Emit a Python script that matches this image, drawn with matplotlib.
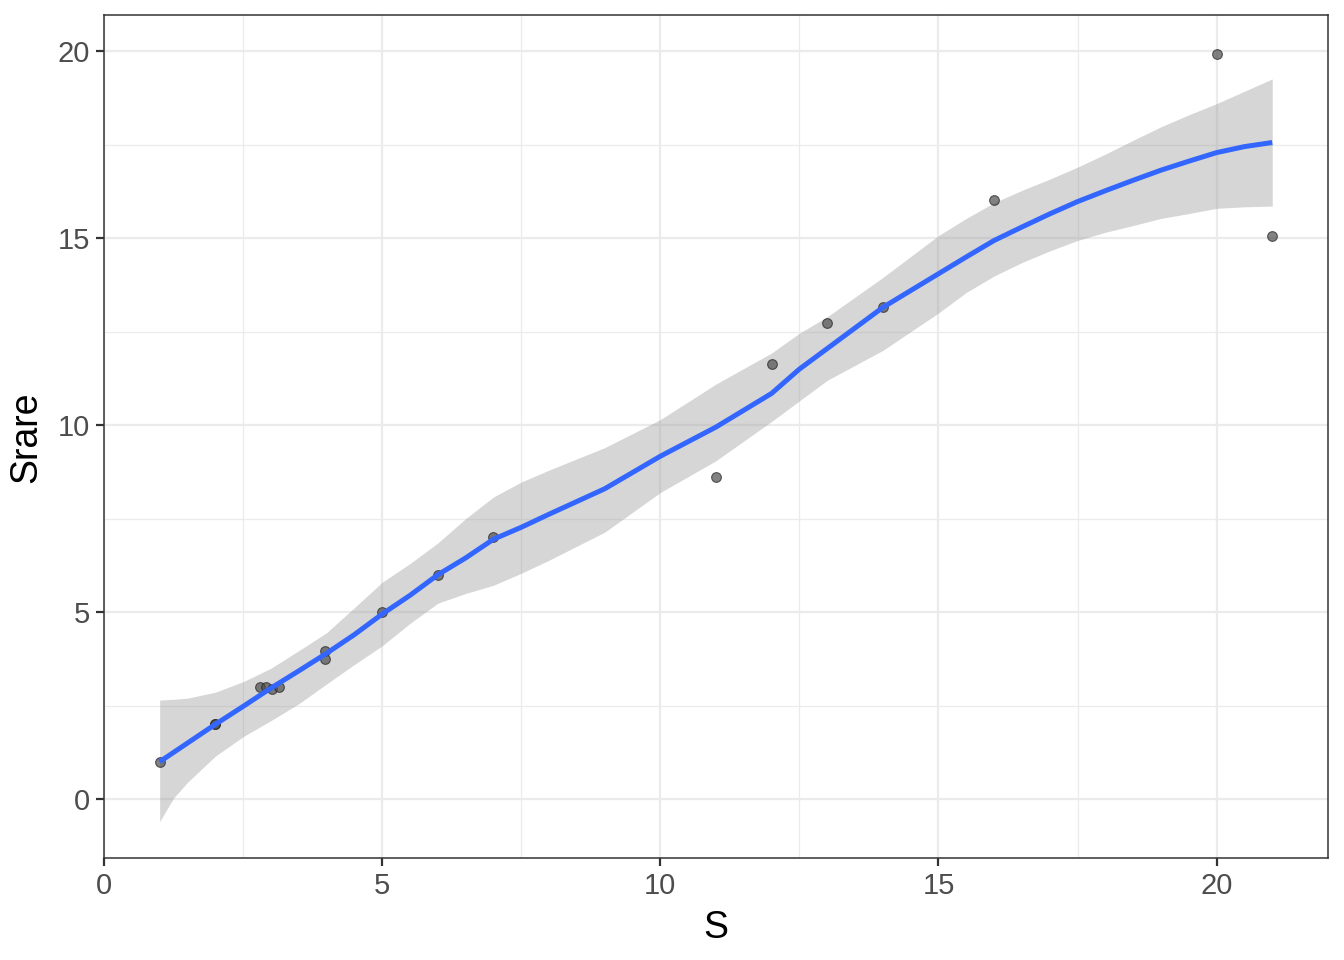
import matplotlib
matplotlib.use("Agg")
from matplotlib import pyplot as plt
from matplotlib.ticker import MultipleLocator
import numpy as np

plt.rcParams["font.family"] = ["Liberation Sans", "DejaVu Sans"]

# observed points
S = [1, 2, 2, 2.8, 2.92, 3.02, 3.15, 3.98, 3.98, 5, 6, 7, 11, 12, 13, 14, 16, 20, 21]
Srare = [1.0, 2.0, 2.02, 3.0, 3.0, 2.95, 3.0, 3.95, 3.75, 5.0, 6.0, 7.0,
         8.62, 11.65, 12.72, 13.17, 16.02, 19.93, 15.07]

# loess fit with confidence band
fit_x = [1, 1.25, 1.5, 2, 2.5, 3, 3.5, 4, 4.5, 5, 5.5, 6, 6.5, 7, 7.5, 8, 9, 10, 11,
         12, 12.5, 13, 14, 15, 15.5, 16, 16.5, 17, 17.5, 18, 18.5, 19, 19.5,
         20, 20.5, 21]
fit_y = [1.0, 1.25, 1.5, 2.0, 2.48, 2.97, 3.43, 3.9, 4.4, 4.95, 5.45, 6.0, 6.45, 6.95,
         7.27, 7.62, 8.3, 9.17, 9.95, 10.85, 11.5, 12.05, 13.15, 14.05, 14.5,
         14.94, 15.3, 15.65, 15.98, 16.27, 16.55, 16.82, 17.06, 17.29, 17.45, 17.56]
fit_hi = [2.65, 2.67, 2.7, 2.86, 3.14, 3.5, 3.97, 4.45, 5.12, 5.8, 6.3, 6.85, 7.5, 8.08,
          8.48, 8.8, 9.4, 10.15, 11.1, 11.93, 12.46, 12.9, 13.95, 15.07, 15.53,
          15.95, 16.28, 16.58, 16.9, 17.25, 17.62, 17.98, 18.3, 18.6, 18.93, 19.26]
fit_lo = [-0.6, 0.03, 0.45, 1.15, 1.67, 2.1, 2.55, 3.08, 3.6, 4.1, 4.7, 5.24, 5.5, 5.72,
          6.04, 6.39, 7.14, 8.2, 9.05, 10.1, 10.65, 11.2, 12.0, 13.0, 13.55,
          13.99, 14.35, 14.66, 14.94, 15.16, 15.34, 15.53, 15.66, 15.8, 15.84, 15.86]

fig = plt.figure(figsize=(13.44, 9.6), dpi=100)
ax = fig.add_axes([0.0774, 0.106, 0.9106, 0.878])

ax.fill_between(fit_x, fit_lo, fit_hi, color="#999999", alpha=0.4, linewidth=0, zorder=2)
ax.plot(S, Srare, "o", markersize=7, markerfacecolor="#4d4d4d", markeredgecolor="#222222",
        markeredgewidth=0.8, alpha=0.7, zorder=3)
ax.plot(fit_x, fit_y, color="#3366FF", linewidth=3.6, solid_capstyle="butt",
        solid_joinstyle="round", zorder=4)

ax.set_xlim(0, 22)
ax.set_ylim(-1.58, 20.96)
ax.xaxis.set_major_locator(MultipleLocator(5))
ax.xaxis.set_minor_locator(MultipleLocator(2.5))
ax.yaxis.set_major_locator(MultipleLocator(5))
ax.yaxis.set_minor_locator(MultipleLocator(2.5))

ax.grid(which="major", color="#EBEBEB", linewidth=1.6, zorder=0)
ax.grid(which="minor", color="#EBEBEB", linewidth=0.9, zorder=0)
ax.set_axisbelow(True)

for sp in ax.spines.values():
    sp.set_color("#333333")
    sp.set_linewidth(1.1)

ax.tick_params(which="major", length=6, width=1.6, color="#333333",
               labelsize=21, labelcolor="#4D4D4D", pad=4)
ax.tick_params(which="minor", length=0)

ax.set_xlabel("S", fontsize=27, color="black", labelpad=7)
ax.set_ylabel("Srare", fontsize=27, color="black", labelpad=10)

fig.savefig("out.png", dpi=100)
